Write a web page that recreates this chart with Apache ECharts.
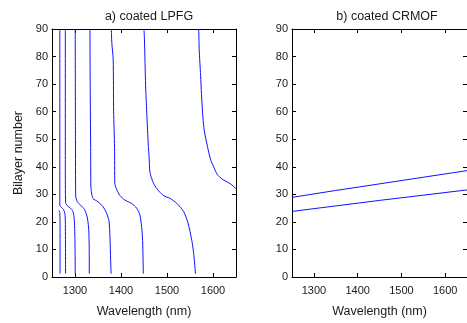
<!DOCTYPE html>
<html>
<head>
<meta charset="utf-8">
<script src="https://cdn.jsdelivr.net/npm/echarts@6/dist/echarts.min.js"></script>
<style>html,body{margin:0;padding:0;background:#fff}#c{width:467px;height:323px}</style>
</head>
<body>
<div id="c"></div>
<script>
// ---- data: [wavelength (nm), bilayer number] ----
const titles = ["a) coated LPFG", "b) coated CRMOF"];
const xTicks = [1300, 1400, 1500, 1600];
const yTicks = [0, 10, 20, 30, 40, 50, 60, 70, 80, 90];

// panel a) contour curves
const lpfg1 = [[1265.5, 24.2], [1267, 23], [1267.5, 18], [1267.5, 1.2]];
const lpfg2 = [[1267, 90], [1267, 40], [1267, 26], [1270, 25.3], [1275, 24.5], [1278, 23], [1279, 20], [1279.5, 1.2]];
const lpfg3 = [[1279, 90], [1279, 40], [1279.5, 27], [1283, 25.9], [1290, 25], [1295.5, 23.8], [1298.5, 20.8], [1300, 12], [1300.5, 1.2]];
const lpfg4 = [[1300.5, 90], [1301, 50], [1301.5, 29.5], [1305, 27.3], [1312, 26.1], [1321, 24.4], [1327, 21.4], [1330, 16.7], [1331, 8], [1331, 1.2]];
const lpfg5 = [[1332.5, 90], [1333, 70], [1334, 47], [1334.5, 33], [1336, 30.5], [1339, 28.5], [1350, 27.3], [1361, 25.5], [1368.5, 23.2], [1374, 20.2], [1376, 14.4], [1377.5, 6], [1378.5, 1.2]];
const lpfg6 = [[1379, 90], [1380, 85], [1383, 79], [1384, 60], [1386, 47], [1386.5, 34], [1390, 32], [1397.5, 29.6], [1408.5, 27.9], [1423, 26.7], [1434, 25], [1441, 22.6], [1445, 17.9], [1447, 13.2], [1448, 6], [1448.5, 1.2]];
const lpfg7 = [[1450, 90], [1451, 86], [1453.5, 69.6], [1456, 59.6], [1459.5, 47.3], [1461, 43.8], [1463, 37.9], [1470, 34.3], [1478, 32], [1492, 29.6], [1507, 28.5], [1521.5, 26.7], [1536, 23.8], [1545.5, 19.7], [1554, 13.2], [1558, 8.5], [1562, 1.2]];
const lpfg8 = [[1569, 90], [1570, 82.6], [1573, 73.2], [1575, 66.2], [1578, 58], [1581, 53.2], [1588, 47.3], [1595, 42.5], [1602, 39.8], [1609, 37.3], [1620, 35.5], [1638, 33.8], [1650, 32]];

// panel b) lines
const crmofUpper = [[1250, 28.9], [1350, 31.4], [1450, 33.8], [1550, 36.2], [1650, 38.6]];
const crmofLower = [[1250, 23.8], [1350, 25.8], [1450, 27.8], [1550, 29.7], [1650, 31.6]];

const panelA = [lpfg1, lpfg2, lpfg3, lpfg4, lpfg5, lpfg6, lpfg7, lpfg8];
const panelB = [crmofUpper, crmofLower];

const FONT = "Liberation Sans, Arial, Helvetica, sans-serif";
const TXT = "#1a1a1a";
const AX = "#000";

const grids = [
  {left: 52, top: 29, width: 184, height: 255},
  {left: 292, top: 29, width: 183, height: 255}
];

function mainX(gi) {
  return {
    type: "value", gridIndex: gi, min: 1250, max: 1650, position: "bottom",
    name: "Wavelength (nm)", nameLocation: "middle", nameGap: 28,
    nameTextStyle: {fontFamily: FONT, fontSize: 12.5, color: TXT},
    axisLine: {show: true, onZero: false, lineStyle: {color: AX, width: 1}},
    axisTick: {show: true, inside: true, length: 4, customValues: xTicks, lineStyle: {color: AX}},
    axisLabel: {show: true, customValues: xTicks, margin: 8, fontFamily: FONT, fontSize: 11, color: TXT, formatter: v => String(v)},
    splitLine: {show: false}
  };
}
function topX(gi) {
  return {
    type: "value", gridIndex: gi, min: 1250, max: 1650, position: "top",
    axisLine: {show: true, onZero: false, lineStyle: {color: AX, width: 1}},
    axisTick: {show: true, inside: true, length: 4, customValues: xTicks, lineStyle: {color: AX}},
    axisLabel: {show: true, customValues: xTicks, color: "rgba(0,0,0,0)", formatter: v => ""},
    splitLine: {show: false}
  };
}
function mainY(gi, name) {
  return {
    type: "value", gridIndex: gi, min: 0, max: 90, interval: 10, position: "left",
    name: name, nameLocation: "middle", nameGap: 27,
    nameTextStyle: {fontFamily: FONT, fontSize: 12.5, color: TXT},
    axisLine: {show: true, onZero: false, lineStyle: {color: AX, width: 1}},
    axisTick: {show: true, inside: true, length: 4, lineStyle: {color: AX}},
    axisLabel: {show: true, margin: 4, fontFamily: FONT, fontSize: 11, color: TXT},
    splitLine: {show: false}
  };
}
function rightY(gi) {
  return {
    type: "value", gridIndex: gi, min: 0, max: 90, interval: 10, position: "right",
    axisLine: {show: true, onZero: false, lineStyle: {color: AX, width: 1}},
    axisTick: {show: true, inside: true, length: 4, lineStyle: {color: AX}},
    axisLabel: {show: false}, splitLine: {show: false}
  };
}

const series = [];
panelA.forEach(d => series.push({type: "line", xAxisIndex: 0, yAxisIndex: 0, data: d, showSymbol: false, symbol: "none", smooth: 0.25, clip: true, lineStyle: {color: "#1010ff", width: 1}, silent: true, animation: false}));
panelB.forEach(d => series.push({type: "line", xAxisIndex: 2, yAxisIndex: 2, data: d, showSymbol: false, symbol: "none", clip: true, lineStyle: {color: "#1010ff", width: 1}, silent: true, animation: false}));

const chart = echarts.init(document.getElementById("c"), null, {renderer: "canvas"});
chart.setOption({
  animation: false,
  backgroundColor: "#fff",
  title: [
    {text: titles[0], left: 144, top: 5, textAlign: "center", textStyle: {fontFamily: FONT, fontSize: 12.5, fontWeight: "normal", color: TXT}},
    {text: titles[1], left: 382, top: 5, textAlign: "center", textStyle: {fontFamily: FONT, fontSize: 12.5, fontWeight: "normal", color: TXT}}
  ],
  grid: grids,
  xAxis: [mainX(0), topX(0), mainX(1), topX(1)],
  yAxis: [mainY(0, "Bilayer number"), rightY(0), mainY(1, ""), rightY(1)],
  series: series
});
</script>
</body>
</html>
